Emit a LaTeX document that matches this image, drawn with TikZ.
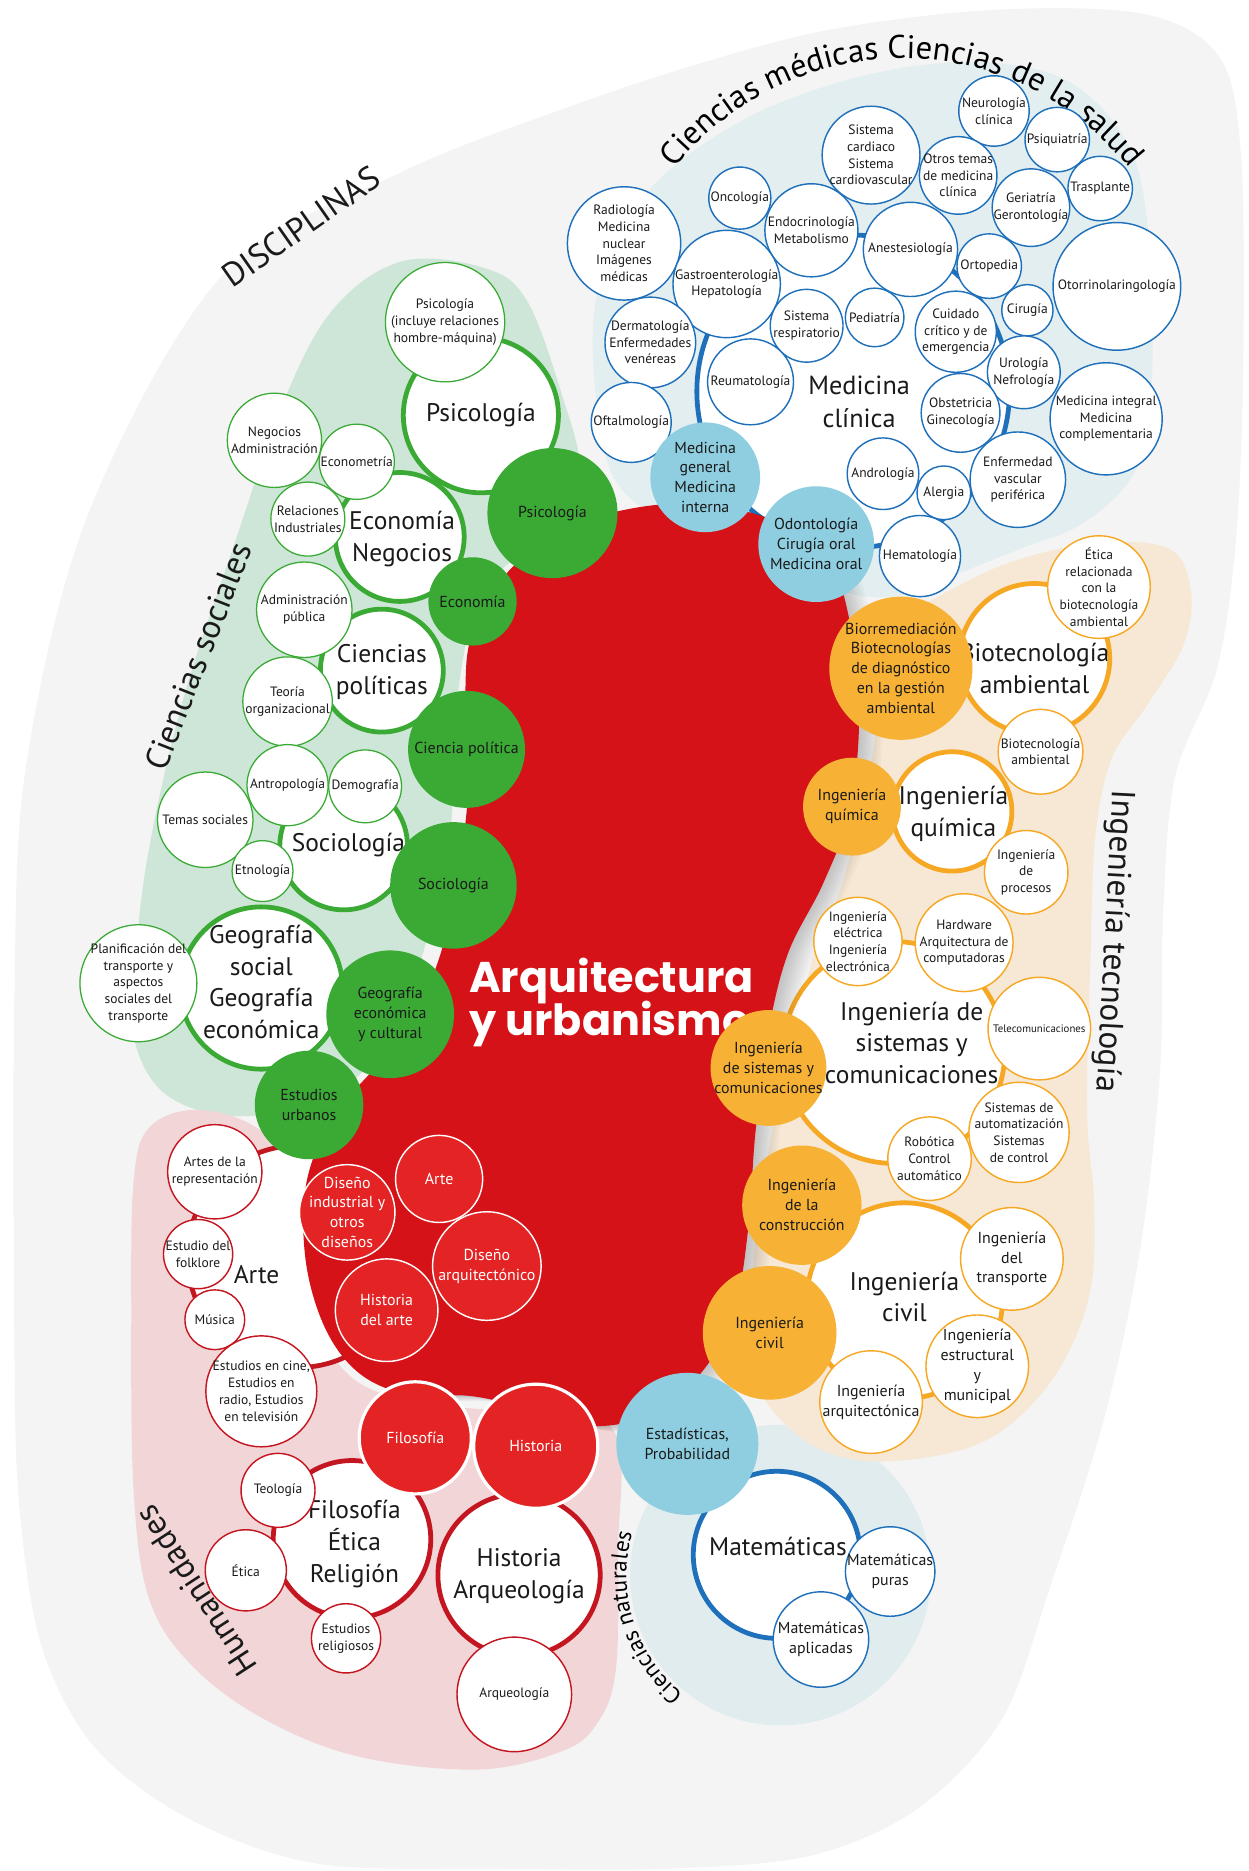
\documentclass[tikz,border=0pt]{standalone}
\usepackage{fontspec}
\setmainfont{PT Sans}
\newfontfamily\titlefont{Poppins}
\usetikzlibrary{decorations.text}

\definecolor{graybg}{RGB}{244,244,244}
\definecolor{grnbg}{RGB}{206,230,216}
\definecolor{grn}{RGB}{58,170,53}
\definecolor{blubg}{RGB}{227,238,240}
\definecolor{natbg}{RGB}{225,236,238}
\definecolor{blu}{RGB}{31,112,186}
\definecolor{lblu}{RGB}{142,206,224}
\definecolor{orgbg}{RGB}{246,232,212}
\definecolor{org}{RGB}{246,168,36}
\definecolor{orgf}{RGB}{247,177,52}
\definecolor{pinkbg}{RGB}{242,214,215}
\definecolor{redb}{RGB}{213,18,23}
\definecolor{redc}{RGB}{228,36,36}
\definecolor{dred}{RGB}{196,22,32}
\definecolor{ink}{RGB}{26,26,26}

\newcommand\arcfontA{\fontsize{20.5}{20.5}\selectfont}
\newcommand\arcfontB{\fontsize{14.5}{14.5}\selectfont}

\tikzset{
  sz/.style={minimum size=1.5pt*#1},
  bubble/.style={circle, inner sep=0pt, outer sep=0pt},
  subG/.style={bubble, draw=grn, fill=white, line width=0.8pt},
  subB/.style={bubble, draw=blu, fill=white, line width=0.9pt},
  subO/.style={bubble, draw=org, fill=white, line width=0.9pt},
  subR/.style={bubble, draw=dred, fill=white, line width=0.9pt},
  ringG/.style={bubble, draw=grn, fill=white, line width=3pt},
  ringB/.style={bubble, draw=blu, fill=white, line width=3pt},
  ringO/.style={bubble, draw=org, fill=white, line width=3pt},
  ringR/.style={bubble, draw=dred, fill=white, line width=3pt},
  fillG/.style={bubble, fill=grn},
  fillB/.style={bubble, fill=lblu},
  fillO/.style={bubble, fill=orgf},
  fillR/.style={bubble, fill=redc, draw=white, line width=0.9pt},
  fillRH/.style={bubble, fill=redc, draw=white, line width=2pt},
  tS/.style={font=\fontsize{8.5}{10.5}\selectfont, align=center, text=ink, inner sep=0pt},
  tT/.style={font=\fontsize{6.8}{8}\selectfont, align=center, text=ink, inner sep=0pt},
  tM/.style={font=\fontsize{10}{12.5}\selectfont, align=center, text=ink, inner sep=0pt},
  tW/.style={font=\fontsize{10}{12.5}\selectfont, align=center, text=white, inner sep=0pt},
  tL/.style={font=\fontsize{16}{20}\selectfont, align=center, text=ink, inner sep=0pt},
  area/.style={font=\fontsize{21}{21}\selectfont, text=ink, inner sep=0pt},
  titleS/.style={font=\titlefont\bfseries\fontsize{27}{27}\selectfont, text=white, inner sep=0pt},
}

% bubble: style, text style, name, x, y, radius, text
\newcommand\bub[7]{%
  \node[#1, sz=#6] (#3) at (#4,#5) {};
  \node[#2] (#3-t) at (#3) {#7};}

\newcommand\redblob{plot[smooth cycle, tension=.6] coordinates {
  (470,446) (520,428) (580,422) (640,433) (690,460) (712,520) (720,600)
  (712,680) (690,740) (660,800) (643,870) (633,950) (627,1030) (615,1100)
  (588,1150) (545,1185) (495,1195) (440,1180) (395,1170) (340,1168)
  (300,1150) (272,1112) (256,1055) (257,990) (280,935) (318,890) (352,840)
  (372,790) (386,720) (393,650) (390,580) (396,530) (425,480)}}

\begin{document}
\begin{tikzpicture}[x=0.75pt,y=-0.75pt]
\useasboundingbox (0,0) rectangle (1046,1568);
\fill[white] (0,0) rectangle (1046,1568);

% ---------- fields ----------
\fill[graybg] plot[smooth cycle, tension=.55] coordinates {
  (12,1120) (12,838) (22,641) (75,428) (187,230) (337,144) (470,92) (587,53)
  (700,24) (837,8) (960,12) (1022,48) (1040,130) (1042,300) (1036,450)
  (1020,560) (985,650) (975,760) (972,900) (955,1050) (925,1190) (880,1330)
  (840,1440) (770,1515) (680,1555) (560,1566) (420,1566) (267,1562)
  (160,1525) (80,1465) (35,1380) (16,1260)};

\fill[grnbg] plot[smooth cycle, tension=.6] coordinates {
  (281,257) (337,219) (404,224) (441,251) (471,331) (486,395) (468,445)
  (420,478) (393,530) (381,610) (378,690) (362,770) (340,840) (302,900)
  (250,928) (190,935) (140,918) (115,880) (112,830) (123,722) (153,588)
  (195,460) (240,331)};

\fill[blubg] plot[smooth cycle, tension=.6] coordinates {
  (497,300) (503,235) (528,180) (570,135) (640,92) (730,62) (820,52)
  (895,68) (945,120) (962,190) (966,280) (962,360) (945,405) (905,440)
  (860,458) (810,478) (765,497) (715,498) (660,470) (600,450) (545,430)
  (510,390)};

\fill[natbg] (654,1320) circle[radius=126];

\fill[orgbg] plot[smooth cycle, tension=.6] coordinates {
  (740,530) (790,498) (850,470) (920,455) (980,460) (998,495) (992,540)
  (962,590) (932,635) (918,700) (914,800) (911,930) (917,1010) (914,1080)
  (893,1138) (860,1182) (820,1210) (765,1223) (710,1222) (665,1200)
  (632,1150) (632,1050) (645,960) (662,880) (682,800) (706,740) (728,650)
  (738,580)};

\fill[pinkbg] plot[smooth cycle, tension=.6] coordinates {
  (112,990) (125,945) (165,930) (215,945) (250,985) (255,1080) (290,1150)
  (350,1175) (450,1185) (515,1200) (518,1300) (516,1400) (500,1445)
  (470,1468) (400,1483) (300,1472) (220,1440) (160,1395) (125,1340)
  (112,1250) (110,1100)};

% ---------- area titles ----------
\node[area, rotate=35] (discip) at (252,190) {DISCIPLINAS};
\node[area, rotate=68.6] (csoc) at (166,550) {Ciencias sociales};
\node[area, rotate=-93] (ingtec) at (933,789) {Ingeniería tecnología};
\node[area, rotate=123] (human) at (164,1333) {Humanidades};
\path[decorate, decoration={text along path, text align=center,
  text={|\arcfontA|Ciencias médicas Ciencias de la salud}}]
  ([shift={(-150:243)}]756,292) arc[start angle=-150, end angle=-30, radius=243];
\path[decorate, decoration={text along path, text align=center,
  text={|\arcfontB|Ciencias naturales}}]
  ([shift={(125:129)}]654,1320) arc[start angle=125, end angle=200, radius=129];

% ---------- main rings ----------
\node[ringG, sz=65] (psiR) at (403,348) {};
\node[tL] (psiR-t) at (403,348) {Psicología};
\node[ringG, sz=54] (ecoR) at (335,450) {};
\node[tL] (ecoR-t) at (337,452) {Economía\\Negocios};
\node[ringG, sz=51.5] (polR) at (320,562) {};
\node[tL] (polR-t) at (320,563) {Ciencias\\políticas};
\node[ringG, sz=53.5] (socR) at (288,709) {};
\node[tL] (socR-t) at (292,708) {Sociología};
\node[ringG, sz=68] (geoR) at (219,828) {};
\node[tL] (geoR-t) at (219,823) {Geografía\\social\\Geografía\\económica};

\node[ringB, sz=131] (medR) at (715,328) {};
\node[tL, font=\fontsize{16.5}{21}\selectfont] (medR-t) at (720,337) {Medicina\\clínica};
\node[ringB, sz=70] (matR) at (651,1303) {};
\node[tL] (matR-t) at (652,1296) {Matemáticas};

\node[ringO, sz=63] (bioR) at (867,552) {};
\node[tL] (bioR-t) at (867,560) {Biotecnología\\ambiental};
\node[ringO, sz=50] (quiR) at (798,680) {};
\node[tL] (quiR-t) at (799,682) {Ingeniería\\química};
\node[ringO, sz=93] (sisR) at (749,882) {};
\node[tL] (sisR-t) at (764,874) {Ingeniería de\\sistemas y\\comunicaciones};
\node[ringO, sz=82] (civR) at (758,1090) {};
\node[tL] (civR-t) at (758,1087) {Ingeniería\\civil};

\node[ringR, sz=93] (artR) at (250,1053) {};
\node[ringR, sz=66] (filR) at (295,1290) {};
\node[tL] (filR-t) at (297,1294) {Filosofía\\Ética\\Religión};
\node[ringR, sz=68] (hisR) at (435,1320) {};
\node[tL] (hisR-t) at (435,1321) {Historia\\Arqueología};

% ---------- central field with its soft shadow ----------
\foreach \d in {2,4,...,20}
  \fill[black, opacity=.018, shift={(\d,\d/4)}] \redblob;
\fill[redb] \redblob;
\node[tL] (artR-t) at (215,1068) {Arte};
\node[titleS, anchor=base west] (ttl1) at (393,832) {Arquitectura};
\node[titleS, anchor=base west] (ttl2) at (393,867.5) {y urbanismo};

% ---------- social sciences ----------
\bub{subG}{tS}{psiinc}{373}{270}{50}{Psicología\\(incluye relaciones\\hombre-máquina)}
\bub{subG}{tS}{neg}{230}{369}{39.5}{Negocios\\Administración}
\bub{subG}{tS}{ecom}{299}{387}{31.5}{Econometría}
\bub{subG}{tS}{rel}{258}{435}{31}{Relaciones\\Industriales}
\bub{subG}{tS}{adm}{255}{511}{40}{Administración\\pública}
\bub{subG}{tS}{teo}{241}{588}{37.5}{Teoría\\organizacional}
\bub{subG}{tS}{ant}{241}{658}{34}{Antropología}
\bub{subG}{tS}{dem}{306}{659}{30.5}{Demografía}
\bub{subG}{tS}{tem}{172}{687}{40}{Temas sociales}
\bub{subG}{tS}{etn}{220}{730}{25.5}{Etnología}
\bub{subG}{tS}{pla}{116}{824}{49}{Planificación del\\transporte y\\aspectos\\sociales del\\transporte}

% ---------- medical sciences ----------
\bub{subB}{tS}{rad}{523}{204}{47.5}{Radiología\\Medicina\\nuclear\\Imágenes\\médicas}
\bub{subB}{tS}{onc}{620}{166}{26}{Oncología}
\bub{subB}{tS}{card}{730}{130}{41}{Sistema\\cardiaco\\Sistema\\cardiovascular}
\bub{subB}{tS}{neu}{833}{93}{29.5}{Neurología\\clínica}
\bub{subB}{tS}{psq}{886}{117}{27}{Psiquiatría}
\bub{subB}{tS}{otr}{803}{147}{32.5}{Otros temas\\de medicina\\clínica}
\bub{subB}{tS}{ger}{864}{174}{32.5}{Geriatría\\Gerontología}
\bub{subB}{tS}{tras}{922}{158}{27}{Trasplante}
\bub{subB}{tS}{endo}{680}{193}{39}{Endocrinología\\Metabolismo}
\bub{subB}{tS}{anes}{763}{209}{39.5}{Anestesiología}
\bub{subB}{tS}{orto}{829}{223}{27}{Ortopedia}
\bub{subB}{tS}{otor}{936}{240}{53.5}{Otorrinolaringología}
\bub{subB}{tS}{gast}{609}{238}{45}{Gastroenterología\\Hepatología}
\bub{subB}{tS}{derm}{545}{287}{38}{Dermatología\\Enfermedades\\venéreas}
\bub{subB}{tS}{resp}{676}{273}{30.5}{Sistema\\respiratorio}
\bub{subB}{tS}{ped}{733}{266}{24.5}{Pediatría}
\bub{subB}{tS}{cuid}{801}{278}{34}{Cuidado\\crítico y de\\emergencia}
\bub{subB}{tS}{cir}{861}{260}{21.5}{Cirugía}
\bub{subB}{tS}{reum}{629}{320}{36}{Reumatología}
\bub{subB}{tS}{uro}{858}{312}{30.5}{Urología\\Nefrología}
\bub{subB}{tS}{oft}{529}{354}{33.5}{Oftalmología}
\bub{subB}{tS}{obs}{805}{346}{33}{Obstetricia\\Ginecología}
\bub{subB}{tS}{mint}{927}{351}{47}{Medicina integral\\Medicina\\complementaria}
\bub{subB}{tS}{andr}{740}{397}{30}{Andrología}
\bub{subB}{tS}{aler}{791}{413}{22.5}{Alergia}
\bub{subB}{tS}{enf}{853}{402}{40}{Enfermedad\\vascular\\periférica}
\bub{subB}{tS}{hema}{771}{466}{34}{Hematología}

% ---------- engineering ----------
\bub{subO}{tS}{eti}{921}{492}{43}{Ética\\relacionada\\con la\\biotecnología\\ambiental}
\bub{subO}{tS}{bios}{872}{630}{35.5}{Biotecnología\\ambiental}
\bub{subO}{tS}{proc}{860}{731}{35}{Ingeniería\\de\\procesos}
\bub{subO}{tS}{ele}{719}{789}{37}{Ingeniería\\eléctrica\\Ingeniería\\electrónica}
\bub{subO}{tS}{hard}{808}{790}{41}{Hardware\\Arquitectura de\\computadoras}
\bub{subO}{tT}{tel}{871}{862}{43}{Telecomunicaciones}
\bub{subO}{tS}{aut}{854}{949}{42}{Sistemas de\\automatización\\Sistemas\\de control}
\bub{subO}{tS}{rob}{779}{971}{35}{Robótica\\Control\\automático}
\bub{subO}{tM}{tran}{848}{1055}{43}{Ingeniería\\del\\transporte}
\bub{subO}{tM}{estr}{819}{1145}{43}{Ingeniería\\estructural\\y\\municipal}
\bub{subO}{tM}{arqi}{730}{1175}{43}{Ingeniería\\arquitectónica}

% ---------- humanities ----------
\bub{subR}{tS}{artrep}{180}{982}{39.5}{Artes de la\\representación}
\bub{subR}{tS}{folk}{166}{1051}{29}{Estudio del\\folklore}
\bub{subR}{tS}{mus}{180}{1106}{25}{Música}
\bub{subR}{tS}{cine}{219}{1166}{46.5}{Estudios en cine,\\Estudios en\\radio, Estudios\\en televisión}
\bub{subR}{tS}{teol}{233}{1249}{31}{Teología}
\bub{subR}{tS}{etic}{206}{1316}{34}{Ética}
\bub{subR}{tS}{relig}{290}{1373}{29}{Estudios\\religiosos}
\bub{subR}{tS}{arqu}{431}{1420}{48}{Arqueología}

% ---------- natural sciences ----------
\bub{subB}{tM}{mpur}{746}{1317}{37.5}{Matemáticas\\puras}
\bub{subB}{tM}{mapl}{688}{1374}{40}{Matemáticas\\aplicadas}

% ---------- disciplines of the central field ----------
\bub{fillG}{tM}{psiF}{463}{430}{54.5}{Psicología}
\bub{fillG}{tM}{ecoF}{396}{504}{37}{Economía}
\bub{fillG}{tM}{polF}{391}{628}{49}{Ciencia política}
\bub{fillG}{tM}{socF}{380}{742}{53}{Sociología}
\bub{fillG}{tM}{geoF}{327}{850}{53.5}{Geografía\\económica\\y cultural}
\bub{fillG}{tM}{urbF}{259}{926}{45.5}{Estudios\\urbanos}

\bub{fillB}{tM}{mgen}{591}{400}{46}{Medicina\\general\\Medicina\\interna}
\bub{fillB}{tM}{odon}{684}{456}{48.5}{Odontología\\Cirugía oral\\Medicina oral}
\bub{fillB}{tM}{esta}{576}{1210}{59.5}{Estadísticas,\\Probabilidad}

\bub{fillO}{tM}{bioF}{755}{560}{60}{Biorremediación\\Biotecnologías\\de diagnóstico\\en la gestión\\ambiental}
\bub{fillO}{tM}{quiF}{714}{676}{41}{Ingeniería\\química}
\bub{fillO}{tM}{sisF}{644}{895}{48.5}{Ingeniería\\de sistemas y\\comunicaciones}
\bub{fillO}{tM}{conF}{672}{1010}{50}{Ingeniería\\de la\\construcción}
\bub{fillO}{tM}{civF}{645}{1117}{56}{Ingeniería\\civil}

\bub{fillR}{tW}{disi}{291}{1016}{40}{Diseño\\industrial y\\otros\\diseños}
\bub{fillR}{tW}{artF}{368}{988}{36.5}{Arte}
\bub{fillR}{tW}{disa}{408}{1061}{45.5}{Diseño\\arquitectónico}
\bub{fillR}{tW}{hart}{324}{1098}{43}{Historia\\del arte}
\bub{fillRH}{tW}{filF}{348}{1205}{47}{Filosofía}
\bub{fillRH}{tW}{hisF}{449}{1212}{52}{Historia}
\end{tikzpicture}
\end{document}
